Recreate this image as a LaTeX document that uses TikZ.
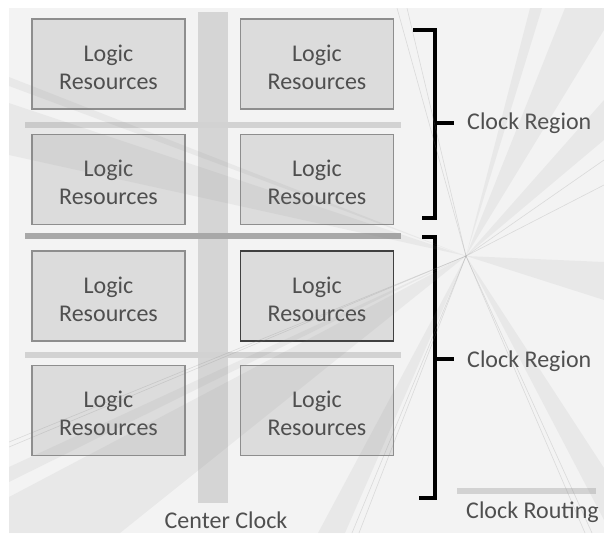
\documentclass[tikz,border=0pt]{standalone}
\usepackage{fontspec}
\setmainfont{Carlito}
\definecolor{bgc}{HTML}{F3F3F3}
\definecolor{boxc}{HTML}{DCDCDC}
\definecolor{boxd}{HTML}{8E8E8E}
\definecolor{txt}{HTML}{4F4F4F}
\definecolor{barl}{HTML}{D2D2D2}
\definecolor{bard}{HTML}{A8A8A8}
\definecolor{vbar}{HTML}{D5D5D5}
\definecolor{rayc}{HTML}{808080}
\begin{document}
\begin{tikzpicture}[x=1pt,y=-1pt,
  lbox/.style={draw=boxd, fill=boxc, line width=1.6pt, minimum width=153pt, minimum height=90pt,
     inner sep=0pt},
  btxt/.style={align=center, text=txt, inner sep=0pt, yshift=-3pt, font=\fontsize{24}{28}\selectfont},
  lab/.style={text=txt, inner sep=0pt, font=\fontsize{24}{28}\selectfont},
  brk/.style={line width=4.2pt, black},
  ray/.style={fill=rayc, opacity=0.09},
  rayl/.style={draw=rayc, opacity=0.22, line width=0.6pt}]
\useasboundingbox (0,0) rectangle (604,533);
\fill[bgc] (9,8) rectangle (604,533);
% clock routing
\fill[vbar] (198,12) rectangle (228,503);
\fill[barl] (25,122) rectangle (401,127.5);
\fill[bard] (25,233) rectangle (401,239);
\fill[barl] (25,352) rectangle (401,358);
\fill[barl] (457,488) rectangle (596,494);
% logic boxes
\node[lbox] (b11) at (108.5,64) {};
\node[lbox] (b12) at (317,64) {};
\node[lbox] (b21) at (108.5,179.5) {};
\node[lbox] (b22) at (317,179.5) {};
\node[lbox] (b31) at (108.5,296) {};
\node[lbox, draw=black!75] (b32) at (317,296) {};
\node[lbox] (b41) at (108.5,410.5) {};
\node[lbox] (b42) at (317,410.5) {};
\foreach \b in {b11,b12,b21,b22,b31,b32,b41,b42}
  \node[btxt] (t\b) at (\b) {Logic\\Resources};
% brackets
\coordinate (t1a) at (413,30); \coordinate (t1b) at (435,30);
\coordinate (u1a) at (422,218); \coordinate (u1b) at (435,218);
\coordinate (m1a) at (435,123); \coordinate (m1b) at (454,123);
\coordinate (t2a) at (422,237); \coordinate (t2b) at (435,237);
\coordinate (u2a) at (419,498); \coordinate (u2b) at (435,498);
\coordinate (m2a) at (435,359); \coordinate (m2b) at (454,359);
\draw[brk] (t1a) -- (t1b) -- (u1b) -- (u1a);
\draw[brk] (m1a) -- (m1b);
\draw[brk] (t2a) -- (t2b) -- (u2b) -- (u2a);
\draw[brk] (m2a) -- (m2b);
% labels
\node[lab, anchor=base west] (r1) at (467,129) {Clock Region};
\node[lab, anchor=base west] (r2) at (467,367) {Clock Region};
\node[lab, anchor=base west] (cr) at (466,518) {Clock Routing};
\node[lab, anchor=base] (cc) at (226,528) {Center Clock};
% starburst
\coordinate (O) at (466,256);
\begin{scope}
\clip (9,8) rectangle (604,533);
\fill[ray] (O) -- (9,103) -- (9,155) -- cycle;
\fill[ray] (O) -- (9,77) -- (9,86) -- cycle;
\fill[ray] (O) -- (9,467) -- (9,482) -- cycle;
\fill[ray] (O) -- (9,497) -- (9,533) -- (120,533) -- cycle;
\fill[ray] (O) -- (530,8) -- (542,8) -- cycle;
\fill[ray] (O) -- (565,8) -- (604,8) -- (604,30) -- cycle;
\fill[ray] (O) -- (604,100) -- (604,140) -- cycle;
\fill[ray] (O) -- (604,262) -- (604,300) -- cycle;
\fill[ray] (O) -- (604,468) -- (604,520) -- cycle;
\fill[ray] (O) -- (318,533) -- (345,533) -- cycle;
\draw[rayl] (O) -- (9,442); \draw[rayl] (O) -- (9,447);
\draw[rayl] (O) -- (397,8); \draw[rayl] (O) -- (407,8);
\draw[rayl] (O) -- (604,160); \draw[rayl] (O) -- (604,185);
\draw[rayl] (O) -- (352,533); \draw[rayl] (O) -- (359,533);
\draw[rayl] (O) -- (585,533); \draw[rayl] (O) -- (592,533);
\end{scope}
\end{tikzpicture}
\end{document}
